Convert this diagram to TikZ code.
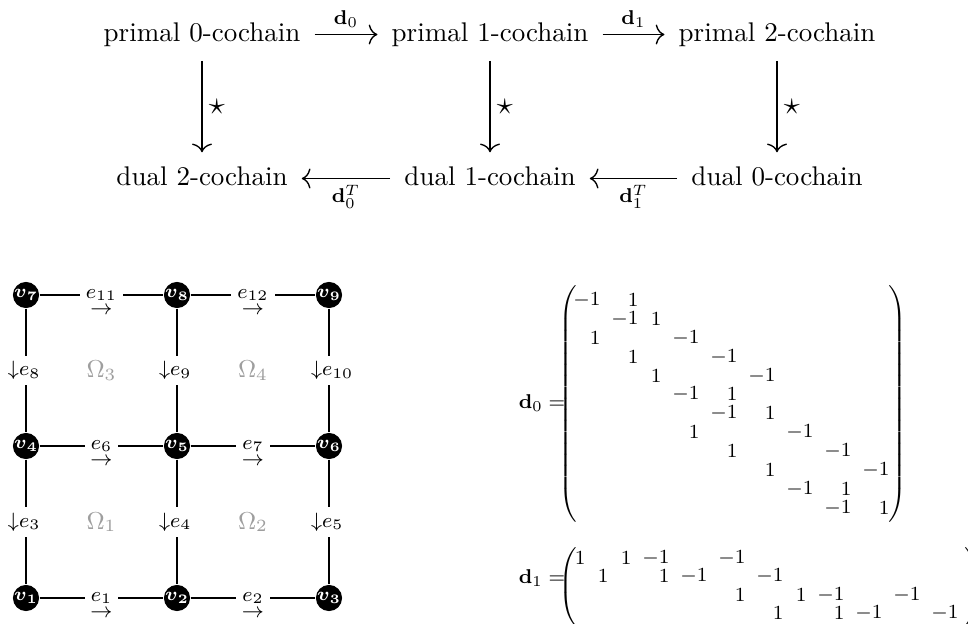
\RequirePackage{fix-cm}
\documentclass[tikz,border=0pt]{standalone}
\usepackage{amsmath}
\usetikzlibrary{arrows.meta}

\begin{document}
\begin{tikzpicture}[x=0.4pt, y=-0.4pt,
  cochain/.style={font=\fontsize{10.8}{13}\selectfont, inner sep=0pt, text height=7.5pt, text depth=2.1pt},
  maparrow/.style={-{Computer Modern Rightarrow[length=3.5pt,width=8pt]}, line width=0.55pt, shorten <=5.5pt, shorten >=5.5pt},
  maplabel/.style={font=\fontsize{8}{9}\selectfont, inner sep=2.5pt},
  hodge/.style={font=\fontsize{13}{15}\selectfont, right, inner sep=2.5pt},
  vertex/.style={circle, fill=black, inner sep=0pt, minimum size=8.3pt, text=white, font=\fontsize{7.4}{8}\selectfont},
  edgeline/.style={line width=0.65pt},
  hlabel/.style={fill=white, inner xsep=2.5pt, inner ysep=1pt, font=\fontsize{8.3}{9}\selectfont},
  vlabel/.style={fill=white, anchor=west, inner xsep=1pt, inner ysep=2.2pt, font=\fontsize{8.3}{9}\selectfont},
  dirarrow/.style={inner sep=0pt, font=\fontsize{8.3}{9}\selectfont},
  face/.style={text=black!38, font=\fontsize{9.8}{11}\selectfont},
  entry/.style={anchor=east, inner sep=0pt, font=\fontsize{8}{9}\selectfont},
  paren/.style={inner sep=0pt, font=\fontsize{7.5}{9}\selectfont},
  matname/.style={inner sep=0pt, font=\fontsize{8}{9}\selectfont}
]
\useasboundingbox (0,0) rectangle (968,623);

% ---- commutative diagram of cochains ----
\node[cochain] (p0) at (202,34.5) {primal 0-cochain};
\node[cochain] (p1) at (490,34.5) {primal 1-cochain};
\node[cochain] (p2) at (777,34.5) {primal 2-cochain};
\node[cochain] (q2) at (202,178.5) {dual 2-cochain};
\node[cochain] (q1) at (490,178.5) {dual 1-cochain};
\node[cochain] (q0) at (777,178.5) {dual 0-cochain};

\draw[maparrow] (p0) -- node[maplabel, above] (l01) {$\mathbf{d}_0$} (p1);
\draw[maparrow] (p1) -- node[maplabel, above] (l12) {$\mathbf{d}_1$} (p2);
\draw[maparrow] (q1) -- node[maplabel, below] (l10) {$\mathbf{d}_0^T$} (q2);
\draw[maparrow] (q0) -- node[maplabel, below] (l21) {$\mathbf{d}_1^T$} (q1);
\draw[maparrow] (p0) -- node[hodge] (s0) {$\star$} (q2);
\draw[maparrow] (p1) -- node[hodge] (s1) {$\star$} (q1);
\draw[maparrow] (p2) -- node[hodge] (s2) {$\star$} (q0);

% ---- 3x3 grid mesh ----
\node[vertex] (v1) at (26,598) {$\boldsymbol{v}_{\mathbf{1}}$};
\node[vertex] (v2) at (177,598) {$\boldsymbol{v}_{\mathbf{2}}$};
\node[vertex] (v3) at (329,598) {$\boldsymbol{v}_{\mathbf{3}}$};
\node[vertex] (v4) at (26,446) {$\boldsymbol{v}_{\mathbf{4}}$};
\node[vertex] (v5) at (177,446) {$\boldsymbol{v}_{\mathbf{5}}$};
\node[vertex] (v6) at (329,446) {$\boldsymbol{v}_{\mathbf{6}}$};
\node[vertex] (v7) at (26,295) {$\boldsymbol{v}_{\mathbf{7}}$};
\node[vertex] (v8) at (177,295) {$\boldsymbol{v}_{\mathbf{8}}$};
\node[vertex] (v9) at (329,295) {$\boldsymbol{v}_{\mathbf{9}}$};

% horizontal edges, oriented left to right
\foreach \a/\b/\k in {1/2/1, 2/3/2, 4/5/6, 5/6/7, 7/8/11, 8/9/12}{
  \draw[edgeline] (v\a) -- (v\b);
  \path (v\a) -- node[hlabel] (e\k) {$e_{\k}$}
                 node[dirarrow, yshift=-6.2pt] (o\k) {$\rightarrow$} (v\b);
}
% vertical edges, oriented downwards
\foreach \a/\b/\k in {4/1/3, 5/2/4, 6/3/5, 7/4/8, 8/5/9, 9/6/10}{
  \draw[edgeline] (v\a) -- (v\b);
  \path (v\a) -- node[vlabel, xshift=-8.4pt] (e\k) {${\downarrow}e_{\k}$} (v\b);
}

% faces
\node[face] (f1) at (101.5,522) {$\Omega_1$};
\node[face] (f2) at (253,522) {$\Omega_2$};
\node[face] (f3) at (101.5,370.5) {$\Omega_3$};
\node[face] (f4) at (253,370.5) {$\Omega_4$};

% ---- incidence matrix d0 (edges x vertices) ----
\node[matname] (dzname) at (542,403) {$\mathbf{d}_0 =$};
\node[paren] (dzl) at (569,404) {$\delimiterfactor=1000 \delimitershortfall=0pt\left(\vrule height 45pt depth 45pt width 0pt\right.$};
\node[paren] (dzr) at (896,404) {$\delimiterfactor=1000 \delimitershortfall=0pt\left.\vrule height 45pt depth 45pt width 0pt\right)$};
\foreach \r/\c/\v in {1/1/-1, 1/2/1, 2/2/-1, 2/3/1, 3/1/1, 3/4/-1, 4/2/1, 4/5/-1,
                      5/3/1, 5/6/-1, 6/4/-1, 6/5/1, 7/5/-1, 7/6/1, 8/4/1, 8/7/-1,
                      9/5/1, 9/8/-1, 10/6/1, 10/9/-1, 11/7/-1, 11/8/1, 12/8/-1, 12/9/1}{
  \pgfmathsetmacro\cx{{600,638,661,699,737,775,813,851,889}[\c-1]}
  \node[entry] (dz-\r-\c) at (\cx+1, {300+(\r-1)*18.9}) {$\v$};
}

% ---- incidence matrix d1 (faces x edges) ----
\node[matname] (doname) at (542,578) {$\mathbf{d}_1 =$};
\node[paren] (dol) at (569,587) {$\delimiterfactor=1000 \delimitershortfall=0pt\left(\vrule height 13.5pt depth 13.5pt width 0pt\right.$};
\node[paren] (dor) at (972,587) {$\delimiterfactor=1000 \delimitershortfall=0pt\left.\vrule height 13.5pt depth 13.5pt width 0pt\right)$};
\foreach \r/\c/\v in {1/1/1, 1/3/1, 1/4/-1, 1/6/-1, 2/2/1, 2/4/1, 2/5/-1, 2/7/-1,
                      3/6/1, 3/8/1, 3/9/-1, 3/11/-1, 4/7/1, 4/9/1, 4/10/-1, 4/12/-1}{
  \pgfmathsetmacro\cx{{585,608,631,669,707,745,783,806,844,882,920,958}[\c-1]}
  \node[entry] (do-\r-\c) at (\cx+1, {558+(\r-1)*18.5}) {$\v$};
}
\end{tikzpicture}
\end{document}
